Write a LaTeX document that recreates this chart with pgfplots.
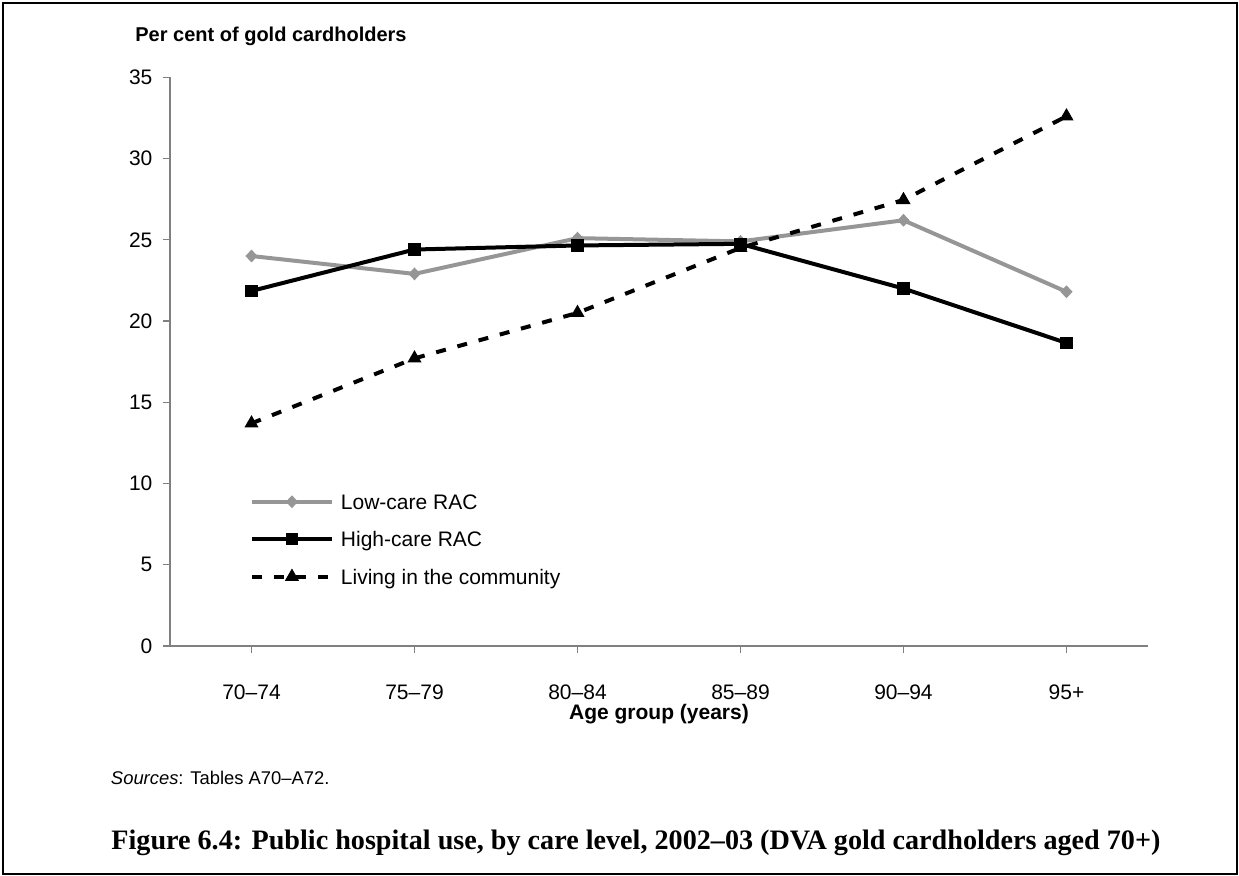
\documentclass[border=0pt]{standalone}
\usepackage{fontspec}
\setmainfont{Liberation Sans}
\newfontfamily\titlefont{Liberation Serif}
\usepackage{graphicx}
\usepackage{pgfplots}
\pgfplotsset{compat=1.18}
\definecolor{axisgray}{RGB}{128,128,128}
\definecolor{lowgray}{RGB}{150,150,150}
\begin{document}
\begin{tikzpicture}
\useasboundingbox (0,0) rectangle (619.5pt,438pt);
\draw[line width=1pt] (1.5pt,1pt) rectangle (618.5pt,436.5pt);
\begin{axis}[
  at={(85pt,115pt)}, anchor=south west,
  scale only axis, width=489pt, height=284.35pt,
  xmin=-0.5, xmax=5.5, ymin=0, ymax=35,
  axis x line*=bottom, axis y line*=left,
  axis line style={axisgray, line width=0.6pt, -},
  xtick={0,1,2,3,4,5},
  xticklabels={70\textendash74,75\textendash79,80\textendash84,85\textendash89,90\textendash94,95+},
  ytick={0,5,...,35},
  tick align=outside,
  tick style={axisgray, line width=0.6pt},
  major tick length=3.5pt,
  /pgf/number format/assume math mode=true,
  tick label style={font=\fontsize{10.5}{12}\selectfont},
  xticklabel style={anchor=base, yshift=-23.5pt},
  yticklabel style={anchor=east, inner sep=0pt, xshift=-5.1pt},
  xlabel={\bfseries Age group (years)},
  xlabel style={at={(axis description cs:0.5,0)}, anchor=base, yshift=-37pt, font=\fontsize{10.5}{12}\selectfont},
  legend style={draw=none, fill=none, at={(axis cs:-0.012,6.57)}, anchor=west,
    inner sep=0pt, row sep=11.25pt, font=\fontsize{10.5}{12}\selectfont,
    nodes={inner sep=0pt, text height=7.5pt, text depth=0pt},
    /tikz/every odd column/.append style={column sep=3.5pt}},
  legend cell align=left,
  legend image code/.code={\draw[mark repeat=2,mark phase=2,#1] plot coordinates {(0pt,0pt) (20pt,0pt) (40pt,0pt)};},
]
\addplot[lowgray, line width=2pt, mark=diamond*, mark size=2.85pt, mark options={solid, line width=0.5pt, xscale=1.25}]
  coordinates {(0,24.0) (1,22.9) (2,25.1) (3,24.9) (4,26.2) (5,21.8)};
\addlegendentry{Low-care RAC}
\addplot[black, line width=2pt, mark=square*, mark size=2.8pt, mark options={solid, line width=0.5pt}]
  coordinates {(0,21.85) (1,24.4) (2,24.65) (3,24.75) (4,22.0) (5,18.65)};
\addlegendentry{High-care RAC}
\addplot[black, line width=2pt, dash pattern=on 5pt off 6pt, mark=triangle*, mark size=3.6pt, mark options={solid, line width=0.5pt}]
  coordinates {(0,13.7) (1,17.7) (2,20.5) (3,24.5) (4,27.45) (5,32.6)};
\addlegendentry{Living in the community}
\end{axis}
\node[anchor=base west, inner sep=0pt] at (67.5pt,417.25pt) {\fontsize{10}{12}\selectfont\bfseries Per cent of gold cardholders};
\node[anchor=base west, inner sep=0pt] at (55.3pt,45.5pt) {\fontsize{9.2}{11}\selectfont\textit{Sources}: Tables A70\textendash A72.};
\node[anchor=base west, inner sep=0pt] at (55.5pt,13pt) {\resizebox{524.5pt}{!}{\titlefont\bfseries Figure 6.4: Public hospital use, by care level, 2002\textendash03 (DVA gold cardholders aged 70+)}};
\end{tikzpicture}
\end{document}
